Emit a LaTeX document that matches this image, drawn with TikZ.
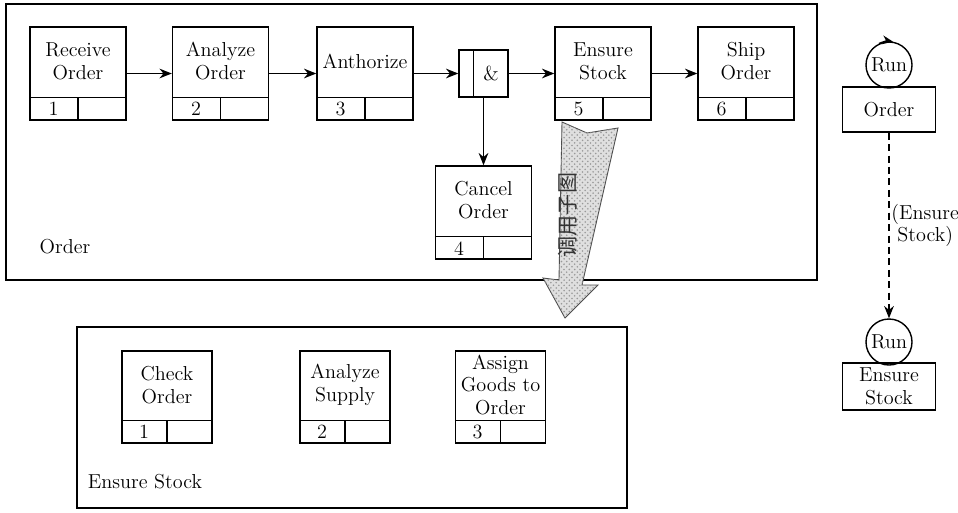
\documentclass[tikz,border=0pt]{standalone}
\usepackage{fontspec}
\newfontfamily\cjk{Noto Sans CJK SC}
\usetikzlibrary{arrows.meta,calc,patterns}

\tikzset{
  act/.style={draw, line width=0.8pt, minimum width=1.92cm, minimum height=1.86cm, inner sep=0pt},
  acttext/.style={align=center},
  frame/.style={draw, line width=0.8pt},
  flow/.style={line width=0.8pt, -{Stealth[length=7pt,width=5.5pt]}},
  runmark/.style={draw, circle, line width=0.8pt, minimum size=0.92cm, inner sep=0pt},
  objbox/.style={draw, line width=0.8pt, minimum width=1.86cm, minimum height=0.9cm, align=center, inner sep=1pt},
}
\newcommand{\cellh}{0.46cm}
% activity box: name, centre, text, number
\newcommand{\activity}[4]{%
  \node[act] (#1) at (#2) {};
  \node[acttext] (#1-txt) at ($(#1.north)!0.37!(#1.south)$) {#3};
  \draw[line width=0.8pt] ([yshift=\cellh]#1.south west) -- ([yshift=\cellh]#1.south east);
  \draw[line width=0.8pt] (#1.south) -- ([yshift=\cellh]#1.south);
  \node (#1-num) at ($(#1.south west)!0.5!(#1.south)+(0,0.23)$) {#4};
}

\begin{document}
\begin{tikzpicture}[font=\fontsize{11.5}{13}\selectfont]
  \useasboundingbox (0,0) rectangle (19.16,-10.24);
  \begin{scope}
    % process Order
    \draw[frame] (0.12,-0.08) rectangle (16.34,-5.60);
    \node (ordlbl) at (1.30,-4.94) {Order};
    \activity{rcv}{1.56,-1.47}{Receive\\Order}{1}
    \activity{ana}{4.41,-1.47}{Analyze\\Order}{2}
    \activity{aut}{7.30,-1.47}{Anthorize}{3}
    \activity{ens}{12.06,-1.47}{Ensure\\Stock}{5}
    \activity{shp}{14.92,-1.47}{Ship\\Order}{6}
    \activity{cnl}{9.67,-4.25}{Cancel\\Order}{4}
    \node[draw, line width=0.8pt, minimum width=0.98cm, minimum height=0.94cm, inner sep=0pt] (andj) at (9.67,-1.47) {};
    \draw[line width=0.8pt] ([xshift=0.3cm]andj.north west) -- ([xshift=0.3cm]andj.south west);
    \node (andj-txt) at ([xshift=0.15cm]andj.center) {\&};
    \draw[flow] (rcv) -- (ana);
    \draw[flow] (ana) -- (aut);
    \draw[flow] (aut) -- (andj);
    \draw[flow] (andj) -- (ens);
    \draw[flow] (ens) -- (shp);
    \draw[flow] (andj.south) -- (cnl.north);
  \end{scope}
  % call of the sub process
  \draw[draw=gray!60!black, fill=gray!25, postaction={pattern=crosshatch dots, pattern color=gray!80}, line width=0.5pt] (11.24,-2.44) -- (11.74,-2.66) -- (12.36,-2.56) -- (11.64,-5.70) -- (11.96,-5.70) -- (11.30,-6.36) -- (10.86,-5.56) -- (11.18,-5.60) -- cycle;
  \node[rotate=90, font=\cjk\fontsize{12}{12}\selectfont, text=black!80] (call) at (11.36,-4.30) {调用子图};
  \begin{scope}[act/.append style={minimum width=1.8cm, minimum height=1.84cm}]
    % process Ensure Stock
    \draw[frame] (1.54,-6.54) rectangle (12.54,-10.16);
    \node (enslbl) at (2.90,-9.64) {Ensure Stock};
    \activity{chk}{3.34,-7.94}{Check\\Order}{1}
    \activity{sup}{6.90,-7.94}{Analyze\\Supply}{2}
    \activity{asg}{10.01,-7.94}{Assign\\Goods to\\Order}{3}
  \end{scope}
  \begin{scope}
    % run objects
    \node[runmark] (run1) at (17.78,-1.30) {Run};
    \node[objbox] (obj1) at (17.78,-2.19) {Order};
    \node[runmark] (run2) at (17.78,-6.84) {Run};
    \node[objbox, minimum height=0.94cm] (obj2) at (17.78,-7.73) {Ensure\\Stock};
    \draw[-{Stealth[length=6pt,width=5pt]}, line width=0.8pt] (run1.115) arc[start angle=115, end angle=80, radius=0.47cm];
    \draw[flow, dash pattern=on 4pt off 2.5pt] (obj1) -- (run2) node[midway, right, align=center, inner sep=1pt] (callbl) {(Ensure\\Stock)};
  \end{scope}
\end{tikzpicture}
\end{document}
